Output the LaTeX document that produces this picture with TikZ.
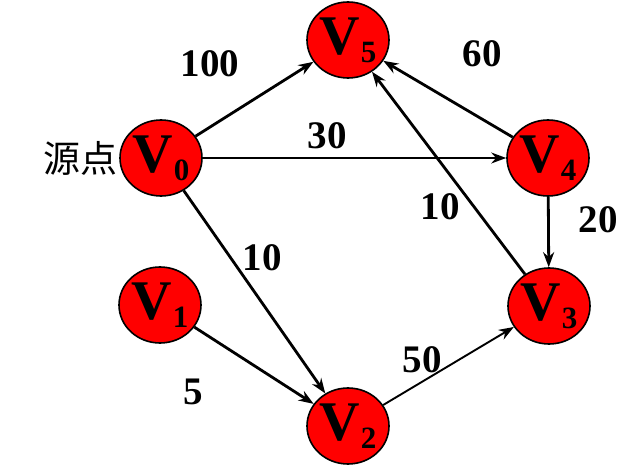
\documentclass[tikz,border=0pt]{standalone}
\usepackage{fontspec}
\setmainfont{Liberation Serif}
\newfontfamily\cjk{Noto Sans CJK SC}
\usetikzlibrary{shapes.geometric,arrows.meta}

\newcommand{\vtx}[1]{\fontsize{56}{56}\selectfont\bfseries V\kern1pt\raisebox{-8pt}{\fontsize{31}{31}\selectfont #1}}

\begin{document}
\begin{tikzpicture}[x=1pt,y=-1pt,
  vert/.style={ellipse,draw,line width=1.6pt,fill=red,minimum width=82pt,minimum height=76pt,inner sep=0pt},
  edge/.style={line width=2.8pt,-{Stealth[length=15pt,width=11pt]}},
  thin edge/.style={edge,line width=1.9pt},
  wt/.style={font=\fontsize{39}{39}\selectfont\bfseries}]
  \useasboundingbox (0,0) rectangle (643,465);
  \node[vert] (v5) at (348,40) {\vtx{5}};
  \node[vert] (v0) at (161,158) {\vtx{0}};
  \node[vert] (v4) at (548,158) {\vtx{4}};
  \node[vert] (v1) at (160,305) {\vtx{1}};
  \node[vert] (v3) at (549,306) {\vtx{3}};
  \node[vert] (v2) at (348,426) {\vtx{2}};
  \node[font=\cjk\fontsize{37}{37}\selectfont,inner sep=0pt] (src) at (80,158) {源点};

  \draw[edge] (v0) -- (v5);
  \draw[thin edge] (v0) -- (v4);
  \draw[edge] (v0) -- (v2);
  \draw[edge] (v1) -- (v2);
  \draw[thin edge] (v2) -- (v3);
  \draw[edge] (v3) -- (v5);
  \draw[edge] (v4) -- (v5);
  \draw[edge] (v4) -- (v3);

  \node[wt] (w05) at (210,64) {100};
  \node[wt] (w04) at (327,136) {30};
  \node[wt] (w45) at (482,54) {60};
  \node[wt] (w02) at (262,258) {10};
  \node[wt] (w35) at (440,207) {10};
  \node[wt] (w43) at (598,220) {20};
  \node[wt] (w23) at (422,360) {50};
  \node[wt] (w12) at (193,392) {5};
\end{tikzpicture}
\end{document}
